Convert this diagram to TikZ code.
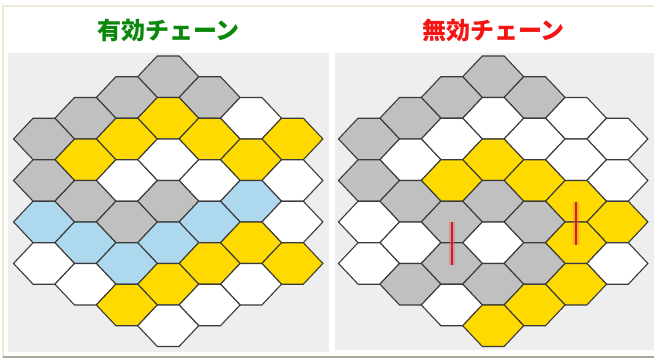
\documentclass[tikz,border=0pt]{standalone}
\usepackage{fontspec}
\newfontfamily\cjk{Noto Sans CJK JP}
\definecolor{hexG}{HTML}{C0C0C0}
\definecolor{hexY}{HTML}{FFDA00}
\definecolor{hexB}{HTML}{AED8EE}
\definecolor{hexW}{HTML}{FFFFFF}
\definecolor{panelbg}{HTML}{EEEEEE}
\definecolor{edgecol}{HTML}{3A3A3A}
\definecolor{frametop}{HTML}{EEE8D4}
\definecolor{framebot}{HTML}{A8A898}
\definecolor{okgreen}{HTML}{0A880A}
\definecolor{ngred}{HTML}{F41414}
\definecolor{cutred}{HTML}{C0242A}
\tikzset{
  hexline/.style={draw=edgecol, line width=1.1pt, line join=miter},
  panel/.style={fill=panelbg, draw=none},
  titletext/.style={font=\cjk\bfseries\fontsize{24}{28}\selectfont, inner sep=0pt},
  cutglow/.style={draw=red!70, opacity=0.35, line width=6pt},
  cutline/.style={draw=cutred, line width=2.6pt}
}
\newcommand\hexboard[2]{%
  \foreach \c/\k/\col in {#2} {
    \pgfmathsetmacro\hx{#1+41.4*\c}
    \pgfmathsetmacro\hy{76.7+20.75*\k}
    \draw[hexline, fill=hex\col, shift={(\hx,\hy)}]
      (-30.5,0) -- (-10.9,-20.75) -- (10.9,-20.75) -- (30.5,0)
      -- (10.9,20.75) -- (-10.9,20.75) -- cycle;
  }%
}
\begin{document}
\begin{tikzpicture}[x=1pt,y=-1pt]
\useasboundingbox (0,0) rectangle (654,360);
\fill[white] (0,0) rectangle (654,360);
% frame
\draw[frametop, line width=1.2pt] (3,357) -- (3,6) -- (654,6);
\draw[framebot, line width=1.6pt] (3,357) -- (654,357);
% panels
\fill[panel] (8,53) rectangle (329,352);
\fill[panel] (335,53) rectangle (654,349.5);
% titles
\node[titletext, text=okgreen] (t1) at (168.5,30) {有効チェーン};
\node[titletext, text=ngred] (t2) at (493.5,30) {無効チェーン};
% left board
\hexboard{44}{3/0/G, 2/1/G, 4/1/G, 1/2/G, 3/2/Y, 5/2/W,
  0/3/G, 2/3/Y, 4/3/Y, 6/3/Y, 1/4/Y, 3/4/W, 5/4/Y,
  0/5/G, 2/5/W, 4/5/W, 6/5/W, 1/6/G, 3/6/G, 5/6/B,
  0/7/B, 2/7/G, 4/7/B, 6/7/W, 1/8/B, 3/8/B, 5/8/Y,
  0/9/W, 2/9/B, 4/9/Y, 6/9/Y, 1/10/W, 3/10/Y, 5/10/W,
  2/11/Y, 4/11/W, 3/12/W}
% right board
\hexboard{369}{3/0/G, 2/1/G, 4/1/G, 1/2/G, 3/2/W, 5/2/W,
  0/3/G, 2/3/W, 4/3/W, 6/3/W, 1/4/W, 3/4/Y, 5/4/W,
  0/5/G, 2/5/Y, 4/5/Y, 6/5/W, 1/6/G, 3/6/G, 5/6/Y,
  0/7/W, 2/7/G, 4/7/G, 6/7/Y, 1/8/W, 3/8/W, 5/8/Y,
  0/9/W, 2/9/G, 4/9/G, 6/9/W, 1/10/G, 3/10/G, 5/10/Y,
  2/11/W, 4/11/Y, 3/12/Y}
% cut marks
\coordinate (c1a) at (451.8,222);
\coordinate (c1b) at (451.8,265);
\coordinate (c2a) at (576,201.5);
\coordinate (c2b) at (576,245);
\draw[cutglow] (c1a) -- (c1b);
\draw[cutline] (c1a) -- (c1b);
\draw[cutglow] (c2a) -- (c2b);
\draw[cutline] (c2a) -- (c2b);
\end{tikzpicture}
\end{document}
